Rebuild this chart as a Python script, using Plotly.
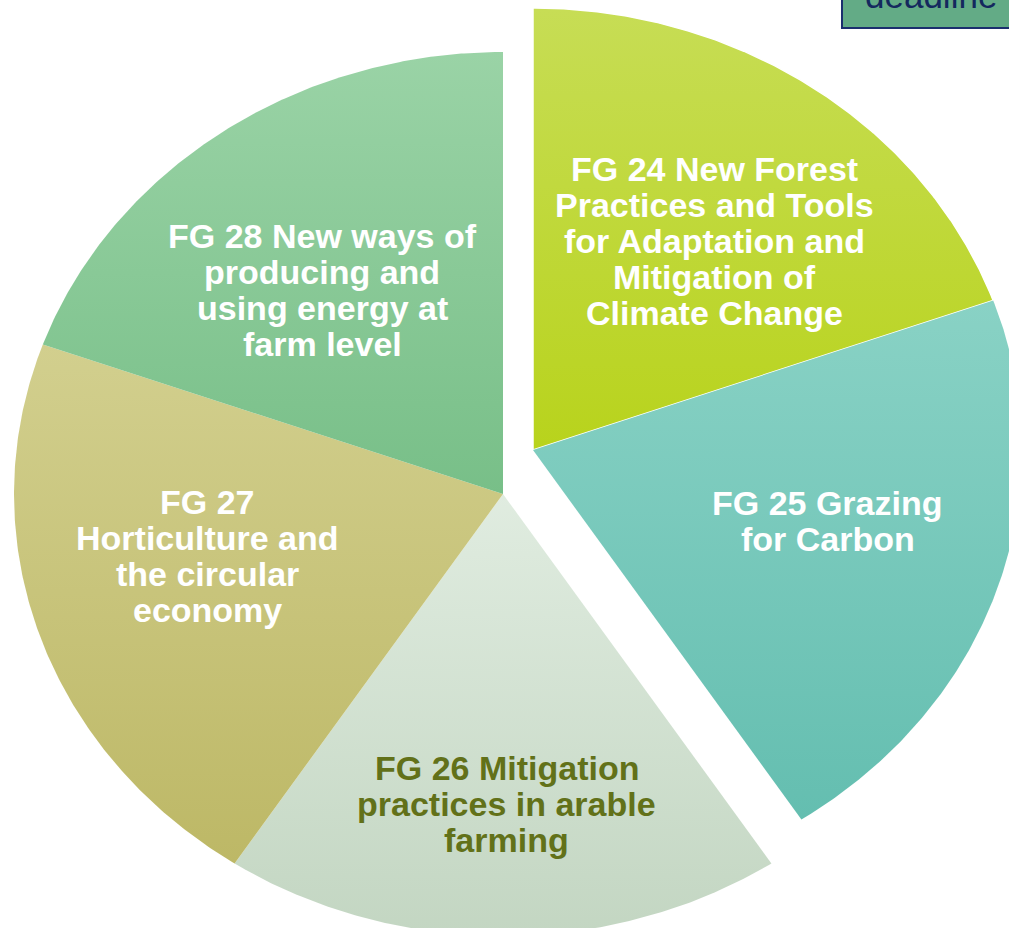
import numpy as np
import plotly.graph_objects as go

# ---- data ----
labels = [
    "FG 24 New Forest\nPractices and Tools\nfor Adaptation and\nMitigation of\nClimate Change",
    "FG 25 Grazing\nfor Carbon",
    "FG 26 Mitigation\npractices in arable\nfarming",
    "FG 27\nHorticulture and\nthe circular\neconomy",
    "FG 28 New ways of\nproducing and\nusing energy at\nfarm level",
]
values = [20, 20, 20, 20, 20]
exploded = [True, True, False, False, False]

# ---- styles ----
top_colors = ["#C7DD55", "#89D2C5", "#E0ECE0", "#D2CF8E", "#9AD3A6"]
bottom_colors = ["#B8D31C", "#64BEB0", "#C3D6C2", "#BDB866", "#78BF88"]
text_colors = ["#FFFFFF", "#FFFFFF", "#627119", "#FFFFFF", "#FFFFFF"]
# label centre offsets as fractions of the radii (relative to slice apex)
label_offsets = [(0.372, -0.473), (0.603, 0.161), (0.008, 0.701),
                 (-0.605, 0.140), (-0.370, -0.462)]

W, H = 1009, 928
CX, CY = 503, 494           # pie centre (axis units = px)
RX, RY = 489, 442           # elliptical radii
PULL_DX, PULL_DY = 30, -44  # explode offset
LINE_H = 36
FONT = "Liberation Sans, Arial, sans-serif"


def radius(phi):
    return 1.0 / np.sqrt((np.sin(phi) / RX) ** 2 + (np.cos(phi) / RY) ** 2)


fig = go.Figure()
total = float(sum(values))
start = 0.0
annotations = []
for i, v in enumerate(values):
    span = 2 * np.pi * v / total
    ph = np.linspace(start, start + span, 200)
    cx = CX + (PULL_DX if exploded[i] else 0)
    cy = CY + (PULL_DY if exploded[i] else 0)
    r = radius(ph)
    xs = np.concatenate([[cx], cx + r * np.sin(ph), [cx]])
    ys = np.concatenate([[cy], cy - r * np.cos(ph), [cy]])
    ytop, ybot = ys.min(), ys.max()
    fig.add_trace(go.Scatter(
        x=xs, y=ys, mode="lines", fill="toself",
        line=dict(width=1.5 if i == 0 else 0, color="white"),
        fillgradient=dict(type="vertical",
                          colorscale=[[0, top_colors[i]], [1, bottom_colors[i]]],
                          start=ytop, stop=ybot),
        hoverinfo="skip", showlegend=False,
    ))
    lx = cx + label_offsets[i][0] * RX
    ly = cy + label_offsets[i][1] * RY
    lines = labels[i].split("\n")
    n = len(lines)
    for k, t in enumerate(lines):
        annotations.append(dict(
            x=lx, y=ly + (k - (n - 1) / 2) * LINE_H, xref="x", yref="y",
            text="<b>%s</b>" % t, showarrow=False, xanchor="center", yanchor="middle",
            font=dict(family=FONT, size=34, color=text_colors[i]),
        ))
    start += span

# deadline box (partially cropped at top right, as in the source slide)
shapes = [dict(type="rect", xref="x", yref="y", x0=842, x1=1040, y0=-40, y1=28,
               fillcolor="#63AB86", line=dict(color="#1B2F6E", width=2), layer="above")]
annotations.append(dict(x=931, y=17, xref="x", yref="y", text="deadline", showarrow=False,
                        xanchor="center", yanchor="bottom",
                        font=dict(family=FONT, size=35, color="#14285E")))

fig.update_layout(
    width=W, height=H, margin=dict(l=0, r=0, t=0, b=0),
    paper_bgcolor="white", plot_bgcolor="white",
    xaxis=dict(range=[0, W], visible=False, fixedrange=True),
    yaxis=dict(range=[H, 0], visible=False, fixedrange=True),
    shapes=shapes, annotations=annotations,
)
fig.write_html("out.html", config={"displayModeBar": False},
               post_script="document.body.style.margin='0';document.body.style.overflow='hidden';")
